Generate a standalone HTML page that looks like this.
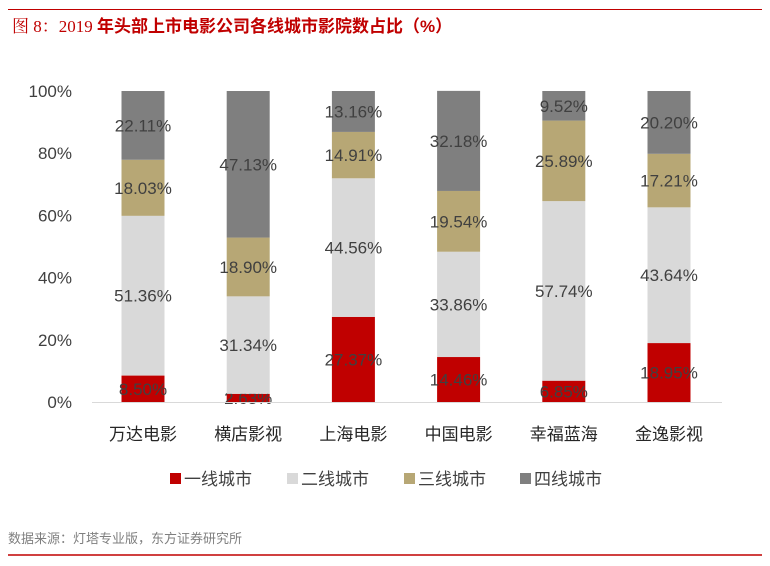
<!DOCTYPE html>
<html><head><meta charset="utf-8"><style>
body{margin:0;width:770px;height:561px;background:#fff;overflow:hidden;font-family:"Liberation Sans","Noto Sans CJK SC",sans-serif;}
</style></head><body>
<svg width="770" height="561" xmlns="http://www.w3.org/2000/svg">
<line x1="8" y1="9.5" x2="762" y2="9.5" stroke="#C00000" stroke-width="1"/>
<text x="12" y="32" fill="#C00000" font-size="17" font-family="'Liberation Serif','Noto Serif CJK SC',serif">图 8：2019 <tspan font-weight="bold" font-family="'Liberation Sans','Noto Sans CJK SC',sans-serif">年头部上市电影公司各线城市影院数占比（%）</tspan></text>
<g id="yaxis"></g>
<g id="bars"></g>
<g id="legend"></g>
<text x="8" y="543" fill="#7F7F7F" font-size="13">数据来源：灯塔专业版，东方证券研究所</text>
<line x1="8" y1="555" x2="762" y2="555" stroke="#C00000" stroke-width="1.5"/>
</svg>
<script>
const categories=["万达电影","横店影视","上海电影","中国电影","幸福蓝海","金逸影视"];
const seriesNames=["一线城市","二线城市","三线城市","四线城市"];
const tier1=[8.50,2.63,27.37,14.46,6.85,18.95];
const tier2=[51.36,31.34,44.56,33.86,57.74,43.64];
const tier3=[18.03,18.90,14.91,19.54,25.89,17.21];
const tier4=[22.11,47.13,13.16,32.18,9.52,20.20];
const yTicks=[0,20,40,60,80,100];
const colors=["#C00000","#D9D9D9","#B7A775","#7F7F7F"];
const NS="http://www.w3.org/2000/svg";
const y0=402,y100=91,x0=143,step=105.2,bw=43;
const Y=v=>y0-(y0-y100)*v/100;
const X=i=>x0+i*step;
function mk(tag,attrs,parent,txt){const e=document.createElementNS(NS,tag);for(const k in attrs)e.setAttribute(k,attrs[k]);if(txt!=null)e.textContent=txt;parent.appendChild(e);return e;}
const ya=document.getElementById('yaxis');
yTicks.forEach(t=>{const e=mk('text',{x:72,y:Y(t)+6,'text-anchor':'end','font-size':17,fill:'#404040'},ya,t+'%');

});
const bars=document.getElementById('bars');
const series=[tier1,tier2,tier3,tier4];
categories.forEach((c,i)=>{let cum=0;
series.forEach((s,j)=>{const v=s[i];const yt=Y(cum+v),yb=Y(cum);
const r=mk('rect',{x:X(i)-bw/2,y:yt,width:bw,height:yb-yt,fill:colors[j]},bars);


const l=mk('text',{x:X(i),y:(yt+yb)/2+6,'text-anchor':'middle','font-size':17,fill:'#404040'},bars,v.toFixed(2)+'%');


cum+=v;});
const cl=mk('text',{x:X(i),y:440,'text-anchor':'middle','font-size':17,fill:'#262626'},bars,c);

});
const ax=mk('line',{x1:92,y1:y0+0.5,x2:722,y2:y0+0.5,stroke:'#D9D9D9'},bars);


const lg=document.getElementById('legend');
const lx=[170,287,404,520];
seriesNames.forEach((n,j)=>{const r=mk('rect',{x:lx[j],y:473,width:11,height:11,fill:colors[j]},lg);


const t=mk('text',{x:lx[j]+14,y:485,'font-size':17,fill:'#404040'},lg,n);

});
</script>
</body></html>
